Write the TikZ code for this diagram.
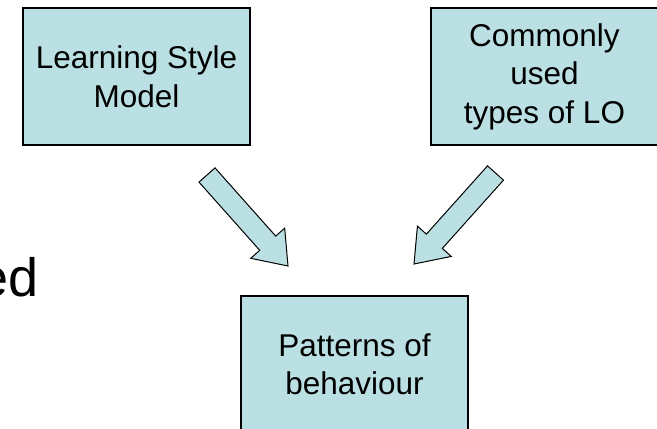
\documentclass[tikz,border=0pt]{standalone}
\usepackage{fontspec}
\setmainfont{Liberation Sans}
\usetikzlibrary{calc}
\definecolor{boxblue}{HTML}{BBE0E3}

\tikzset{
    box/.style={draw, line width=1.3pt, fill=boxblue, minimum width=227pt, minimum height=137pt,
        inner sep=0pt, align=center, font=\fontsize{31.5}{38.5}\selectfont},
    fatarrow/.style={draw, line width=1pt, fill=boxblue, line join=miter}
}

% block arrow from tail #1 to tip #2
\newcommand\blockarrow[2]{%
    \coordinate (neck) at ($(#2)!30.5pt!(#1)$);
    \filldraw[fatarrow] ($(#1)!10.7pt!90:(#2)$)--($(neck)!10.7pt!90:(#2)$)--($(neck)!22.7pt!90:(#2)$)--(#2)
        --($(neck)!22.7pt!-90:(#2)$)--($(neck)!10.7pt!-90:(#2)$)--($(#1)!10.7pt!-90:(#2)$)--cycle;
}

\begin{document}
\begin{tikzpicture}[x=1pt, y=1pt]
\useasboundingbox (0,0) rectangle (657,-429);
\clip (0,0) rectangle (657,-429);

\node[anchor=base east, inner sep=0pt, font=\fontsize{54}{60}\selectfont] (ed) at (39,-296) {ed};

\node[box] (style) at (136.5,-76.5) {Learning Style\\Model};
\node[box] (types) at (544.5,-76.5) {Commonly\\used\\types of LO};
\node[box] (behav) at (354.5,-364.5) {Patterns of\\behaviour};

\coordinate (styletail) at (207,-175);
\coordinate (styletip) at (288,-266);
\coordinate (typestail) at (495.5,-173);
\coordinate (typestip) at (414,-264);

\blockarrow{styletail}{styletip}
\blockarrow{typestail}{typestip}
\end{tikzpicture}
\end{document}
